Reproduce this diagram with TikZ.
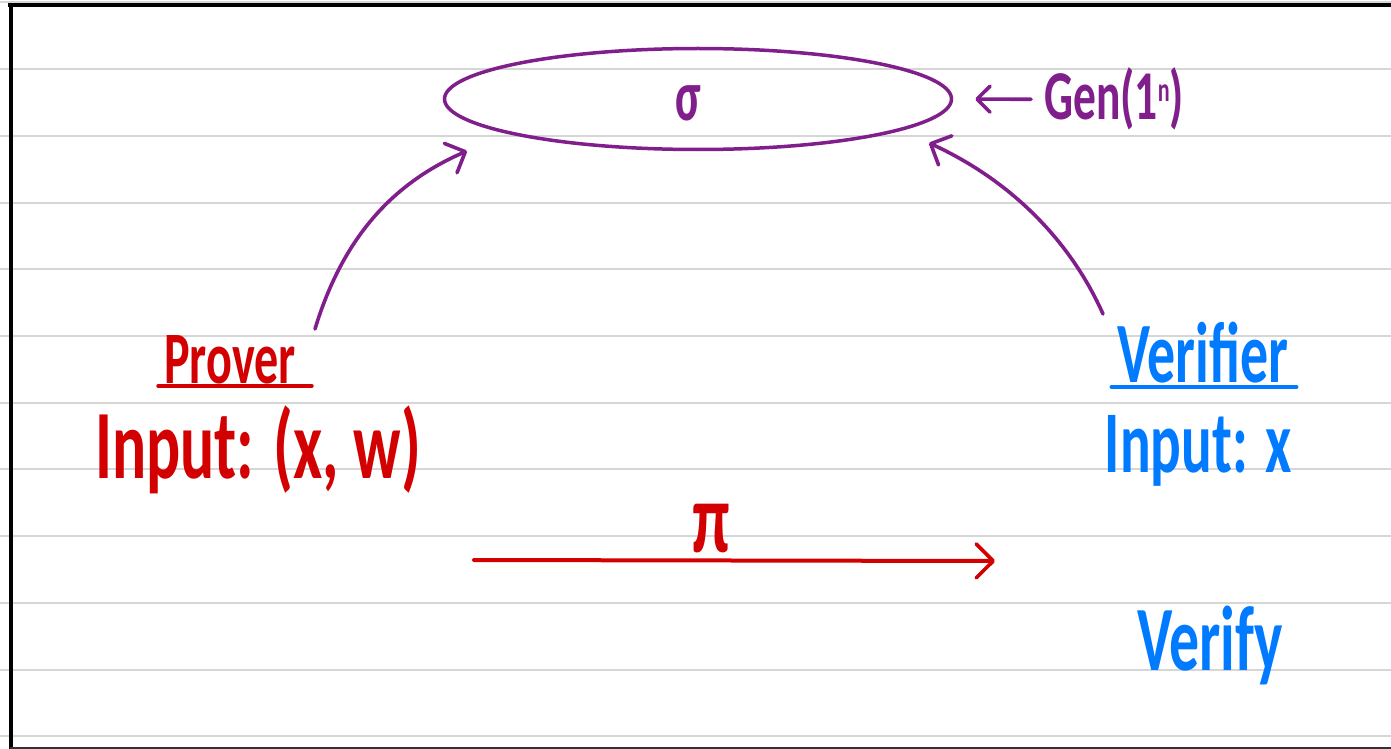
\documentclass[tikz,border=0pt]{standalone}
\usepackage{fontspec}
\newfontfamily\handfont[FakeStretch=0.65]{Carlito}
\usetikzlibrary{arrows.meta, shapes.geometric, calc}
\definecolor{nbpurple}{RGB}{128, 30, 140}
\definecolor{nbred}{RGB}{210, 0, 0}
\definecolor{nbblue}{RGB}{0, 122, 255}
\definecolor{nbrule}{RGB}{214, 214, 214}

\tikzset{
  handtext/.style={font=\handfont\bfseries\fontsize{#1}{#1}\selectfont, inner sep=0pt},
  penline/.style={line width=3.6pt, line cap=round, line join=round},
  barb/.style={-{Straight Barb[length=#1, width=2*#1, line width=3.6pt, round]}},
}

\begin{document}
\begin{tikzpicture}[x=1pt, y=-1pt]

  \useasboundingbox (0,0) rectangle (1391,749);
  \fill[white] (0,0) rectangle (1391,749);

  % --- notebook rules ---
  \foreach \i in {0,...,11}
    \draw[nbrule, line width=2pt] (0,{2.5+66.7*\i}) -- (1391,{2.5+66.7*\i});

  % --- page frame ---
  \draw[black, line width=4pt] (8,5.5) -- (1391,5.5);
  \draw[black, line width=4pt] (10.5,4) -- (10.5,749);
  \draw[black!80, line width=1.5pt] (10,748) -- (1391,748);

  % --- common reference string ---
  \node[ellipse, draw=nbpurple, line width=3.5pt, minimum width=507pt,
        minimum height=101pt, inner sep=0pt] (sigmaset) at (698,99) {};
  \node[handtext=72, text=nbpurple] (sigma) at (688,103) {σ};
  \node[handtext=70, text=nbpurple, anchor=base] (gen) at (1114,120)
    {Gen(1\raisebox{18pt}{\fontsize{34}{34}\selectfont n})};
  \draw[penline, nbpurple, barb=13pt, shorten <=13pt, shorten >=22pt]
    (gen.west) -- (sigmaset.east);

  % --- prover ---
  \node[handtext=74, text=nbred, anchor=base] (prover) at (230,383) {Prover};
  \draw[penline, nbred] ([xshift=-6pt, yshift=-3pt]prover.base west)
    -- ([xshift=16pt, yshift=-3pt]prover.base east);
  \node[handtext=98, text=nbred, anchor=base] (pinput) at (258,478)
    {Input: (x, w)};

  % --- verifier ---
  \node[handtext=86, text=nbblue, anchor=base] (verifier) at (1203,382) {Verifier};
  \draw[penline, nbblue] ([xshift=-6pt, yshift=-5pt]verifier.base west)
    -- ([xshift=8pt, yshift=-5pt]verifier.base east);
  \node[handtext=88, text=nbblue, anchor=base] (vinput) at (1198,472) {Input: x};
  \node[handtext=92, text=nbblue, anchor=base] (verify) at (1210,670) {Verify};

  % --- access to sigma ---
  \coordinate (pvfrom) at (315,329);
  \coordinate (pvto)   at (467,151);
  \coordinate (vffrom) at (1103,314);
  \coordinate (vfto)   at (929,143);
  \draw[penline, nbpurple, barb=16pt]
    (pvfrom) .. controls (345,230) and (400,180) .. (pvto);
  \draw[penline, nbpurple, barb=16pt]
    (vffrom) .. controls (1070,240) and (1010,180) .. (vfto);

  % --- proof message ---
  \coordinate (pistart) at (474,560);
  \coordinate (piend)   at (995,561);
  \draw[penline, nbred, line width=4pt, barb=17pt]
    (pistart) -- (piend)
    node[pos=0.455, above=6pt, handtext=100, text=nbred] (pi) {π};

\end{tikzpicture}
\end{document}
